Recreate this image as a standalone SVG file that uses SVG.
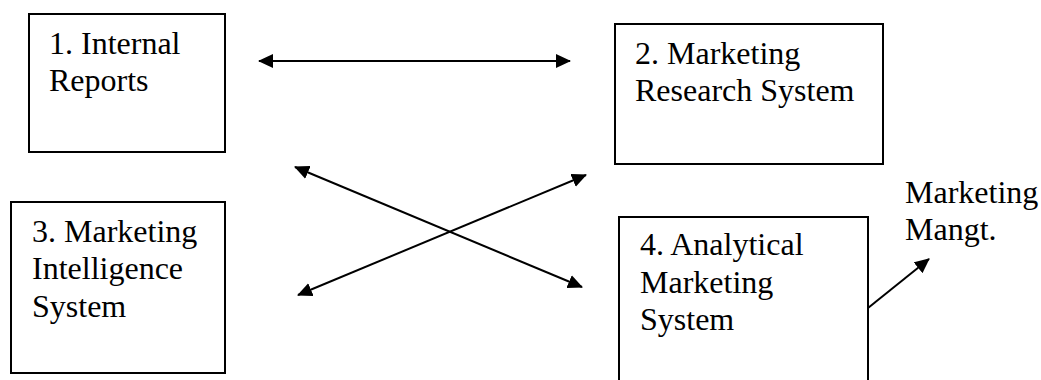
<svg xmlns="http://www.w3.org/2000/svg" width="1041" height="380" viewBox="0 0 1041 380">
  <style>
    .box { fill: #ffffff; stroke: #000000; stroke-width: 2; }
    .lbl { font-family: "Liberation Serif", "Times New Roman", serif; font-size: 32px; fill: #000000; }
    .conn { stroke: #000000; stroke-width: 2; fill: none; }
  </style>
  <defs>
    <marker id="arrow" viewBox="0 0 15 14" refX="14" refY="7" markerWidth="15" markerHeight="14" markerUnits="userSpaceOnUse" orient="auto-start-reverse">
      <path d="M0,0 L15,7 L0,14 z" fill="#000000"/>
    </marker>
  </defs>
  <rect width="1041" height="380" fill="#ffffff"/>

  <g id="node1">
    <rect class="box" x="29" y="14" width="196" height="138"/>
    <text class="lbl" x="49" y="54">1. Internal</text>
    <text class="lbl" x="49" y="91">Reports</text>
  </g>

  <g id="node2">
    <rect class="box" x="615" y="24" width="268" height="140"/>
    <text class="lbl" x="635" y="64">2. Marketing</text>
    <text class="lbl" x="635" y="101">Research System</text>
  </g>

  <g id="node3">
    <rect class="box" x="11" y="202" width="214" height="171"/>
    <text class="lbl" x="32" y="242">3. Marketing</text>
    <text class="lbl" x="32" y="279">Intelligence</text>
    <text class="lbl" x="32" y="317">System</text>
  </g>

  <g id="node4">
    <rect class="box" x="619" y="217" width="249" height="175"/>
    <text class="lbl" x="640" y="255">4. Analytical</text>
    <text class="lbl" x="640" y="293">Marketing</text>
    <text class="lbl" x="640" y="330">System</text>
  </g>

  <g id="mgmt">
    <text class="lbl" x="905" y="203">Marketing</text>
    <text class="lbl" x="905" y="240">Mangt.</text>
  </g>

  <g id="connectors">
    <line class="conn" x1="259" y1="61" x2="570" y2="61" marker-start="url(#arrow)" marker-end="url(#arrow)"/>
    <line class="conn" x1="295" y1="167" x2="582" y2="287" marker-start="url(#arrow)" marker-end="url(#arrow)"/>
    <line class="conn" x1="298" y1="295" x2="586" y2="175" marker-start="url(#arrow)" marker-end="url(#arrow)"/>
    <line class="conn" x1="868" y1="308" x2="929" y2="259" marker-end="url(#arrow)"/>
  </g>
</svg>
